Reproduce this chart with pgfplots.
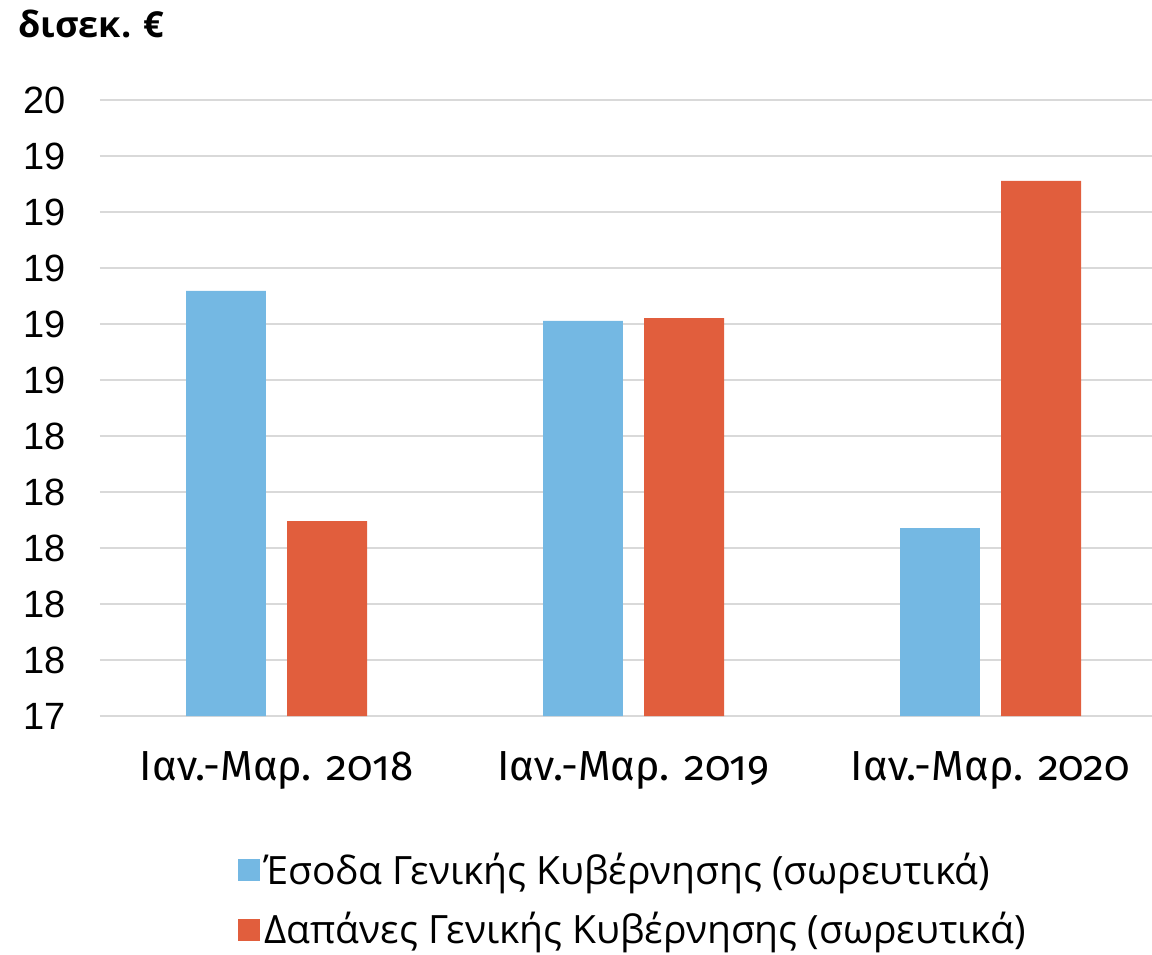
\documentclass[border=0pt]{standalone}
\usepackage{fontspec}
\usepackage{pgfplots}
\pgfplotsset{compat=1.18}
\setmainfont{Liberation Sans}
\newfontfamily\catfont[Numbers=OldStyle]{Fira Sans}
\newfontfamily\legfont{Open Sans}
\newfontfamily\titfont{Open Sans}
\definecolor{cblue}{HTML}{74B8E3}
\definecolor{cred}{HTML}{E15E3D}
\definecolor{cgrid}{HTML}{D9D9D9}
\begin{document}
\begin{tikzpicture}
\begin{axis}[
  scale only axis, width=534.5pt, height=308pt,
  xmin=-0.4944, xmax=2.5, ymin=17.4, ymax=19.6,
  xtick={0,1,2},
  xticklabels={Ιαν.-Μαρ. 2018,Ιαν.-Μαρ. 2019,Ιαν.-Μαρ. 2020},
  ytick={17.4,17.6,17.8,18.0,18.2,18.4,18.6,18.8,19.0,19.2,19.4,19.6},
  yticklabels={17,18,18,18,18,18,19,19,19,19,19,20},
  axis x line=bottom, axis y line=left,
  y axis line style={draw=none},
  x axis line style={draw=cgrid, line width=1pt, -},
  major tick length=0pt,
  ymajorgrids, grid style={draw=cgrid, line width=0.8pt},
  yticklabel style={font=\fontsize{19}{22}\selectfont, xshift=-13.5pt},
  xticklabel style={font=\catfont\fontsize{21}{24}\selectfont, yshift=-14pt},
  legend style={at={(0.129,-0.215)}, anchor=north west, draw=none, fill=none,
    font=\legfont\fontsize{19.5}{23}\selectfont, row sep=8.5pt, inner sep=0pt,
    legend cell align=left},
  legend image code/.code={\fill[#1] (-1.5pt,-5.5pt) rectangle (9.5pt,5.5pt);},
  clip=true,
]
\coordinate (pa) at (rel axis cs:0,0);
\addplot[ybar, bar width=0.224, bar shift=-0.1415, fill=cblue, draw=none]
  coordinates {(0,18.918) (1,18.811) (2,18.071)};
\addlegendentry{Έσοδα Γενικής Κυβέρνησης (σωρευτικά)}
\addplot[ybar, bar width=0.224, bar shift=0.1415, fill=cred, draw=none]
  coordinates {(0,18.096) (1,18.821) (2,19.311)};
\addlegendentry{Δαπάνες Γενικής Κυβέρνησης (σωρευτικά)}
\end{axis}
\node[anchor=north west,inner sep=0pt] at ([xshift=-41pt,yshift=353pt]pa) {\titfont\bfseries\fontsize{18}{21}\selectfont δισεκ. €};
\pgfresetboundingbox
\path[use as bounding box] ([xshift=-50pt,yshift=-119pt]pa) rectangle ([xshift=526pt,yshift=358pt]pa);
\end{tikzpicture}
\end{document}
